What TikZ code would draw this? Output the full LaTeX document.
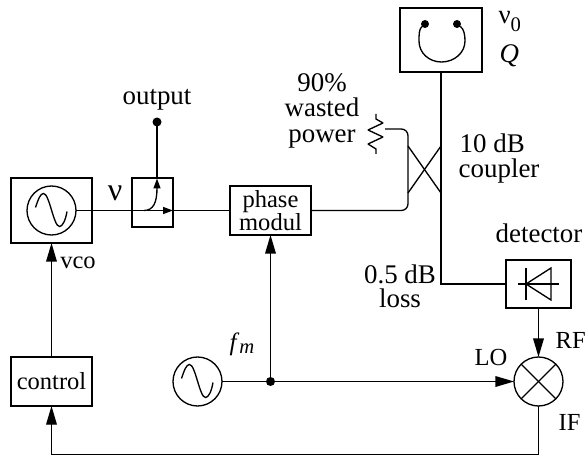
\documentclass[tikz,border=0pt]{standalone}
\usepackage{fontspec}
\setmainfont{Liberation Serif}
\usetikzlibrary{arrows.meta}
\newcommand{\sigfont}{\fontsize{18.4}{16.5}\selectfont}
\newcommand{\lblfont}{\fontsize{20.2}{20}\selectfont}
\newcommand{\nufont}{\fontsize{24}{24}\selectfont}

\begin{document}
\begin{tikzpicture}[x=0.75pt,y=-0.75pt,line width=1pt,font=\sigfont]
	\tikzset{blockbox/.style={draw,inner sep=0pt,outer sep=0pt,align=center}}
	\tikzset{ringnode/.style={draw,circle,inner sep=0pt,outer sep=0pt,minimum size=36.75pt}}
	\tikzset{dotnode/.style={fill,circle,inner sep=0pt,outer sep=0pt,minimum size=6pt}}
	\tikzset{lbl/.style={anchor=base,inner sep=0pt,align=center,font=\lblfont}}
	\tikzset{bigarrow/.style={-{Triangle[length=14pt,width=8pt]}}}
	\tikzset{smallarrow/.style={-{Triangle[length=7.5pt,width=5.25pt]}}}
	\tikzset{sinewave/.pic={\draw (-16,-3) .. controls (-13,-12) and (-11,-17) .. (-8,-17)
		.. controls (-2,-17) and (2,16) .. (8,16) .. controls (11,16) and (14,10) .. (15.5,1);}}
	\useasboundingbox (0,0) rectangle (586,456);
	% blocks
	\node[blockbox,minimum width=60.75pt,minimum height=48.75pt] (vcobox) at (51.5,210.5) {};
	\node[blockbox,minimum width=60.75pt,minimum height=36.75pt] (control) at (51.5,381.5) {control};
	\node[blockbox,minimum width=30.75pt,minimum height=36.75pt] (dircpl) at (152.5,202.5) {};
	\node[blockbox,minimum width=60.75pt,minimum height=36.75pt] (phase) at (270.5,210.5) {phase\\modul};
	\node[blockbox,minimum width=61.5pt,minimum height=48pt] (cavity) at (441,40) {};
	\node[blockbox,minimum width=48.75pt,minimum height=36pt] (detbox) at (538.5,284) {};
	% oscillators and mixer
	\node[ringnode] (vcoring) at (51.5,210.5) {};
	\node[ringnode] (fmring) at (197.5,381.5) {};
	\node[ringnode] (mixer) at (538.5,381.5) {};
	\pic at (vcoring) {sinewave};
	\pic at (fmring) {sinewave};
	\draw (mixer.45) -- (mixer.225);
	\draw (mixer.135) -- (mixer.315);
	% dots
	\node[dotnode,minimum size=6.75pt] (outdot) at (157,122) {};
	\node[dotnode,minimum size=6.75pt] (fmdot) at (270.5,381.5) {};
	\node[dotnode] (cavl) at (425,24) {};
	\node[dotnode] (cavr) at (457,24) {};
	\draw (cavl) .. controls (419,29) and (419,35) .. (419,41) .. controls (419,53) and (429,62) .. (441.5,62)
		.. controls (454,62) and (465,53) .. (465,41) .. controls (465,35) and (464,29) .. (cavr);
	% signal path
	\draw (vcoring) ++(24.5,0) coordinate (vcoout);
	\draw (vcoout) -- (phase.west);
	\coordinate (tapstart) at (144,210.5);
	\coordinate (tapend) at (157,178.5);
	\draw[smallarrow] (tapstart) .. controls (153,210.5) and (157,203) .. (tapend);
	\draw (tapend) -- (outdot);
	\draw[smallarrow] (dircpl.center) ++(5,8) coordinate (thrustart) -- (dircpl.east |- thrustart);
	% coupler
	\coordinate (cplbl) at (408,193);
	\coordinate (cpltl) at (408,146);
	\coordinate (cplbr) at (441,193);
	\coordinate (cpltr) at (441,146);
	\coordinate (dump) at (385,129);
	\draw[rounded corners=5pt] (phase.east) -- (408,210.5) -- (408,129) -- (dump);
	\draw (cpltl) -- (cplbr);
	\draw (cplbl) -- (cpltr);
	\draw[line join=bevel] (376,114) -- (376,119) -- (383,123) -- (368,130) -- (383,137) -- (368,144) -- (376,149) -- (376,154);
	\draw (cavity.south) -- (441,284) -- (detbox.west);
	% diode
	\coordinate (diobar) at (526,284);
	\draw (518,284) -- (559,284);
	\draw (526,268) -- (526,300);
	\draw[line join=miter] (diobar) -- (551,268) -- (551,300) -- cycle;
	% control loop
	\draw[bigarrow] (detbox.south) -- (mixer.north);
	\draw (fmring.east) -- (fmdot);
	\draw[bigarrow] (fmdot) -- (mixer.west);
	\draw[bigarrow] (fmdot) -- (phase.south);
	\draw[bigarrow] (mixer.south) -- (538.5,454.5) -- (51.5,454.5) -- (control.south);
	\draw[bigarrow] (control.north) -- (vcobox.south);
	% labels
	\node[lbl] (outlbl) at (157,105) {output};
	\node[lbl] (nulbl) at (115,201) {\nufont ν};
	\node[lbl,font=\sigfont] (vcolbl) at (78,268) {vco};
	\node[lbl] (waste) at (322,92) {90\%};
	\node[lbl] (waste2) at (322,117) {wasted};
	\node[lbl] (waste3) at (322,143) {power};
	\node[lbl,anchor=base west] (nuzero) at (498,24) {\fontsize{20}{20}\selectfont ν\raisebox{-6pt}{\fontsize{15.5}{15.5}\selectfont 0}};
	\node[lbl,anchor=base west] (qlbl) at (499,63) {\textit{Q}};
	\node[lbl,anchor=base west] (cpl1) at (459,153) {10 dB};
	\node[lbl,anchor=base west] (cpl2) at (458,178) {coupler};
	\node[lbl] (detlbl) at (539,243) {detector};
	\node[lbl] (loss1) at (400,283) {0.5 dB};
	\node[lbl] (loss2) at (400,308) {loss};
	\node[lbl,anchor=base west,font=\sigfont] (fmlbl) at (229,350) {\fontsize{18.75}{18.75}\selectfont\textit{f}\raisebox{-2.25pt}{\fontsize{15.5}{15.5}\selectfont\textit{m}}};
	\node[lbl,anchor=base west,font=\sigfont] (rflbl) at (555,349) {RF};
	\node[lbl,anchor=base west,font=\sigfont] (lolbl) at (474,365) {LO};
	\node[lbl,anchor=base west,font=\sigfont] (iflbl) at (558,430) {IF};
\end{tikzpicture}
\end{document}
